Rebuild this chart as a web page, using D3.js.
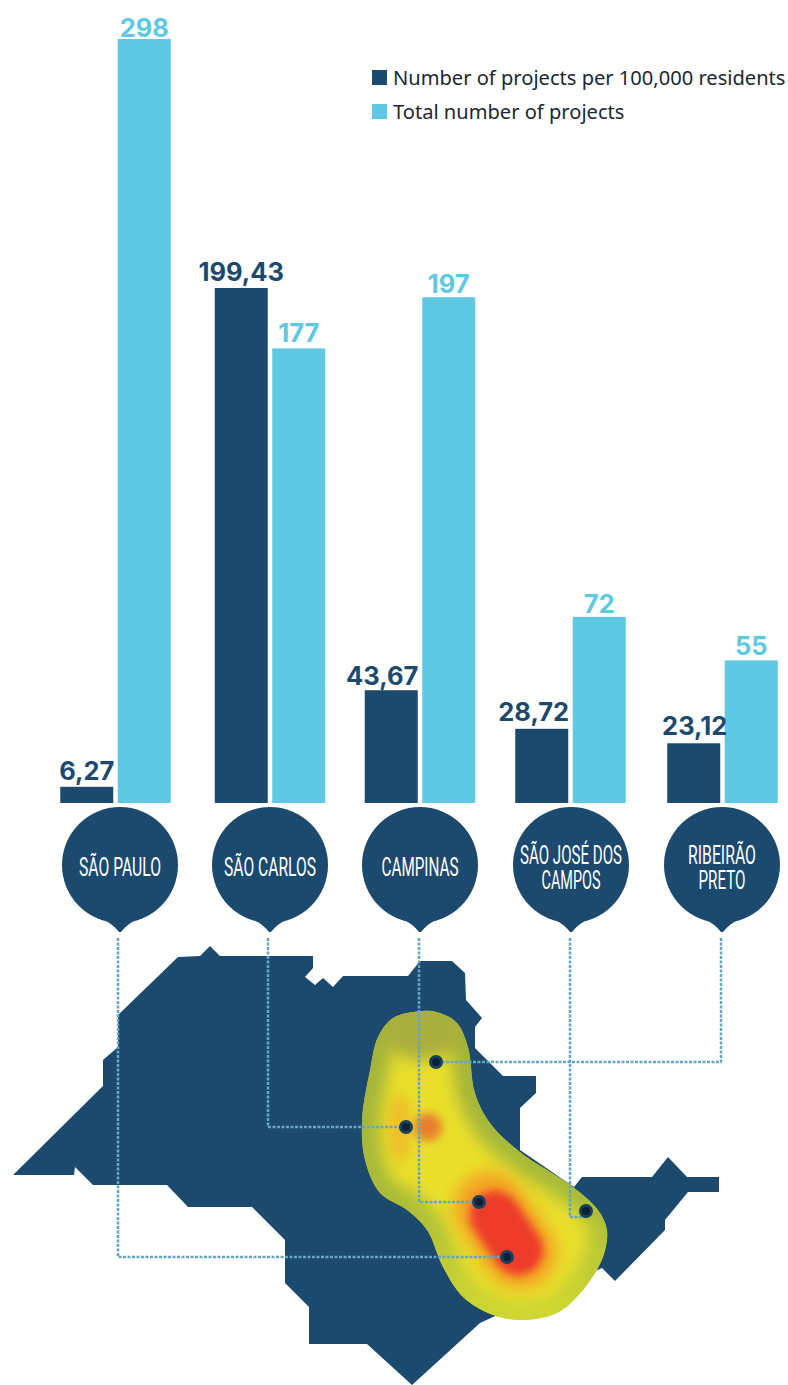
<!DOCTYPE html>
<html>
<head>
<meta charset="utf-8">
<script src="https://cdnjs.cloudflare.com/ajax/libs/d3/7.8.5/d3.min.js"></script>
<style>
  html, body { margin: 0; padding: 0; background: #fff; }
  svg { display: block; }
</style>
</head>
<body>
<script>
// Cities and the two measured series
const cities = ["São Paulo", "São Carlos", "Campinas", "São José dos Campos", "Ribeirão Preto"];
const pinLines = [["SÃO PAULO"], ["SÃO CARLOS"], ["CAMPINAS"], ["SÃO JOSÉ DOS", "CAMPOS"], ["RIBEIRÃO", "PRETO"]];
const perResidents = [6.27, 199.43, 43.67, 28.72, 23.12];
const totalProjects = [298, 177, 197, 72, 55];
const seriesNames = ["Number of projects per 100,000 residents", "Total number of projects"];

// Outline of the state, traced in page units
const stateOutline = [[118,1015],[178,957],[200,956],[210,946],[220,956],[313,956],[313,968],[305,977],[315,985],[323,978],[333,987],[343,976],[408,976],[420,961],[452,961],[465,973],[466,1000],[482,1018],[475,1027],[475,1048],[503,1076],[536,1076],[536,1093],[520,1108],[520,1150],[574,1187],[582,1177],[652,1177],[668,1157],[687,1177],[719,1177],[719,1192],[688,1192],[665,1220],[665,1230],[615,1281],[602,1268],[493,1317],[480,1323],[412,1385],[367,1344],[309,1344],[309,1307],[285,1283],[285,1240],[252,1207],[188,1207],[167,1185],[93,1185],[75,1167],[74,1175],[13,1175],[103,1086],[103,1060],[118,1047]];

// Density region laid over the state
const densityOutline = [[422,1011],[393,1018],[378,1037],[370,1070],[362,1120],[365,1160],[380,1193],[407,1210],[427,1230],[443,1267],[463,1297],[493,1315],[523,1320],[557,1313],[583,1290],[603,1257],[607,1230],[598,1210],[573,1187],[520,1152],[490,1123],[475,1093],[468,1047],[457,1023],[440,1013]];

// Where each city sits on the state map
const citySpots = [[507,1257],[406,1127],[479,1202],[586,1211],[436,1062]];

const navy = "#1c4a6e", sky = "#5fc8e3", wire = "#63a6c4";
const width = 788, height = 1385, baseline = 803;

const svg = d3.select("body").append("svg").attr("width", width).attr("height", height);
const defs = svg.append("defs");

const xCity = d3.scaleOrdinal().domain(cities).range([115.5, 270, 420, 570.5, 722.5]);
const barW = 53, barGap = 4.5;
const yRate = d3.scaleLinear().domain([0, 199.43]).range([baseline, 288]);
const yTotal = d3.scaleLinear().domain([0, 298]).range([801, 39]);

const pinX = d3.scaleOrdinal().domain(cities).range([120, 270, 420, 571, 722]);
const pinY = 865, pinR = 58;

// State map
const outlinePath = d3.line().curve(d3.curveLinearClosed);
svg.append("path").attr("d", outlinePath(stateOutline)).attr("fill", navy);

// Density surface: soft colour bands clipped to the smooth region
const blobPath = d3.line().curve(d3.curveCatmullRomClosed.alpha(0.5))(densityOutline);
defs.append("clipPath").attr("id", "density-clip").append("path").attr("d", blobPath);
[["soft4", 4], ["soft6", 6], ["soft8", 8], ["soft11", 11]].forEach(([id, s]) => {
  defs.append("filter").attr("id", id)
    .attr("filterUnits", "userSpaceOnUse")
    .attr("x", 300).attr("y", 950).attr("width", 360).attr("height", 435)
    .append("feGaussianBlur").attr("stdDeviation", s);
});
const rim = defs.append("linearGradient").attr("id", "density-rim")
  .attr("gradientUnits", "userSpaceOnUse")
  .attr("x1", 0).attr("y1", 1010).attr("x2", 0).attr("y2", 1320);
rim.append("stop").attr("offset", 0).attr("stop-color", "#a2b23c");
rim.append("stop").attr("offset", 0.6).attr("stop-color", "#a8bb38");
rim.append("stop").attr("offset", 1).attr("stop-color", "#cfd832");

const heat = svg.append("g").attr("clip-path", "url(#density-clip)");
heat.append("path").attr("d", blobPath).attr("fill", "#e9df2b");
heat.append("path").attr("d", blobPath).attr("fill", "none")
  .attr("stroke", "url(#density-rim)").attr("stroke-width", 36).attr("filter", "url(#soft8)");
heat.append("ellipse").attr("cx", 422).attr("cy", 1036).attr("rx", 38).attr("ry", 24)
  .attr("fill", "#a9ae3c").attr("filter", "url(#soft8)");
heat.append("ellipse").attr("cx", 400).attr("cy", 1128).attr("rx", 12).attr("ry", 34)
  .attr("fill", "#f2b32a").attr("opacity", 0.7).attr("filter", "url(#soft6)");
heat.append("circle").attr("cx", 428).attr("cy", 1127).attr("r", 14)
  .attr("fill", "#ea7f2e").attr("filter", "url(#soft4)");
heat.append("line").attr("x1", 490).attr("y1", 1208).attr("x2", 520).attr("y2", 1252)
  .attr("stroke", "#f5a020").attr("stroke-width", 72).attr("stroke-linecap", "round").attr("filter", "url(#soft8)");
heat.append("line").attr("x1", 495).attr("y1", 1216).attr("x2", 518).attr("y2", 1250)
  .attr("stroke", "#ee3a2c").attr("stroke-width", 50).attr("stroke-linecap", "round").attr("filter", "url(#soft4)");

// Dotted leaders from each pin to its city on the map
const leader = (i) => {
  const px = pinX(cities[i]) - (i < 2 ? 2 : 1);
  const [sx, sy] = citySpots[i];
  const turnY = cities[i] === "São José dos Campos" ? sy + 6 : sy;
  return [[px, 938], [px, turnY], [sx, turnY]];
};
svg.append("g").selectAll("path").data(cities).join("path")
  .attr("d", (d, i) => d3.line()(leader(i)))
  .attr("fill", "none").attr("stroke", wire).attr("stroke-width", 2.5)
  .attr("stroke-dasharray", "3 1.5");

// City markers on the map
const spots = svg.append("g").selectAll("g").data(citySpots).join("g")
  .attr("transform", d => `translate(${d[0]},${d[1]})`);
spots.append("circle").attr("r", 7).attr("fill", "#17405f");
spots.append("circle").attr("r", 4).attr("fill", "#0b2033");

// Paired bars
const groups = svg.append("g").selectAll("g").data(cities).join("g");
groups.append("rect")
  .attr("x", d => xCity(d) - barGap / 2 - barW)
  .attr("width", barW)
  .attr("y", (d, i) => yRate(perResidents[i]))
  .attr("height", (d, i) => baseline - yRate(perResidents[i]))
  .attr("fill", navy);
groups.append("rect")
  .attr("x", d => xCity(d) + barGap / 2)
  .attr("width", barW)
  .attr("y", (d, i) => yTotal(totalProjects[i]))
  .attr("height", (d, i) => baseline - yTotal(totalProjects[i]))
  .attr("fill", sky);

// Value labels; small per-label nudges keep them clear of their neighbours
const rateNudge = [0, 0, -9, -8, 1];
const rateLift = [7, 7, 5, 8, 8];
const totalLift = [2, 6, 4, 4, 5];
const comma = d3.formatLocale({ decimal: ",", thousands: ".", grouping: [3], currency: ["", ""] }).format(".2f");
const valueFont = "Inter, 'Open Sans', sans-serif";
groups.append("text")
  .attr("x", (d, i) => xCity(d) - barGap / 2 - barW / 2 + rateNudge[i])
  .attr("y", (d, i) => yRate(perResidents[i]) - rateLift[i])
  .attr("text-anchor", "middle").attr("font-family", valueFont)
  .attr("font-weight", 700).attr("font-size", 25.5).attr("fill", navy)
  .text((d, i) => comma(perResidents[i]));
groups.append("text")
  .attr("x", d => xCity(d) + barGap / 2 + barW / 2)
  .attr("y", (d, i) => yTotal(totalProjects[i]) - totalLift[i])
  .attr("text-anchor", "middle").attr("font-family", valueFont)
  .attr("font-weight", 700).attr("font-size", 25.5).attr("fill", sky)
  .text((d, i) => totalProjects[i]);

// Map-pin city badges
const pins = svg.append("g").selectAll("g").data(cities).join("g")
  .attr("transform", d => `translate(${pinX(d)},${pinY})`);
pins.append("circle").attr("r", pinR).attr("fill", navy);
pins.append("path").attr("fill", navy)
  .attr("d", `M-18,${pinR - 4} Q-7,${pinR + 1} -1,${pinR + 9} L1,${pinR + 9} Q7,${pinR + 1} 18,${pinR - 4} Z`);
pins.each(function (d, i) {
  const lines = pinLines[i];
  const fits = { "SÃO PAULO": 82, "SÃO CARLOS": 92, "CAMPINAS": 77, "SÃO JOSÉ DOS": 102, "CAMPOS": 59, "RIBEIRÃO": 68, "PRETO": 47 };
  d3.select(this).selectAll("text").data(lines).join("text")
    .attr("text-anchor", "middle")
    .attr("y", (l, k) => 11 + (k - (lines.length - 1) / 2) * 25)
    .attr("font-family", "Roboto, sans-serif")
    .attr("font-weight", 400)
    .attr("font-size", 25)
    .attr("fill", "#fff")
    .attr("textLength", l => fits[l])
    .attr("lengthAdjust", "spacingAndGlyphs")
    .text(l => l);
});

// Legend
const legendColors = d3.scaleOrdinal().domain(seriesNames).range([navy, sky]);
const legend = svg.append("g").selectAll("g").data(seriesNames).join("g")
  .attr("transform", (d, i) => `translate(372,${70 + i * 34})`);
legend.append("rect").attr("width", 15).attr("height", 15).attr("fill", d => legendColors(d));
legend.append("text").attr("x", 21).attr("y", 15)
  .attr("font-family", "'Noto Sans', sans-serif").attr("font-size", 20.1)
  .attr("fill", "#1a2733")
  .text(d => d);
</script>
</body>
</html>
